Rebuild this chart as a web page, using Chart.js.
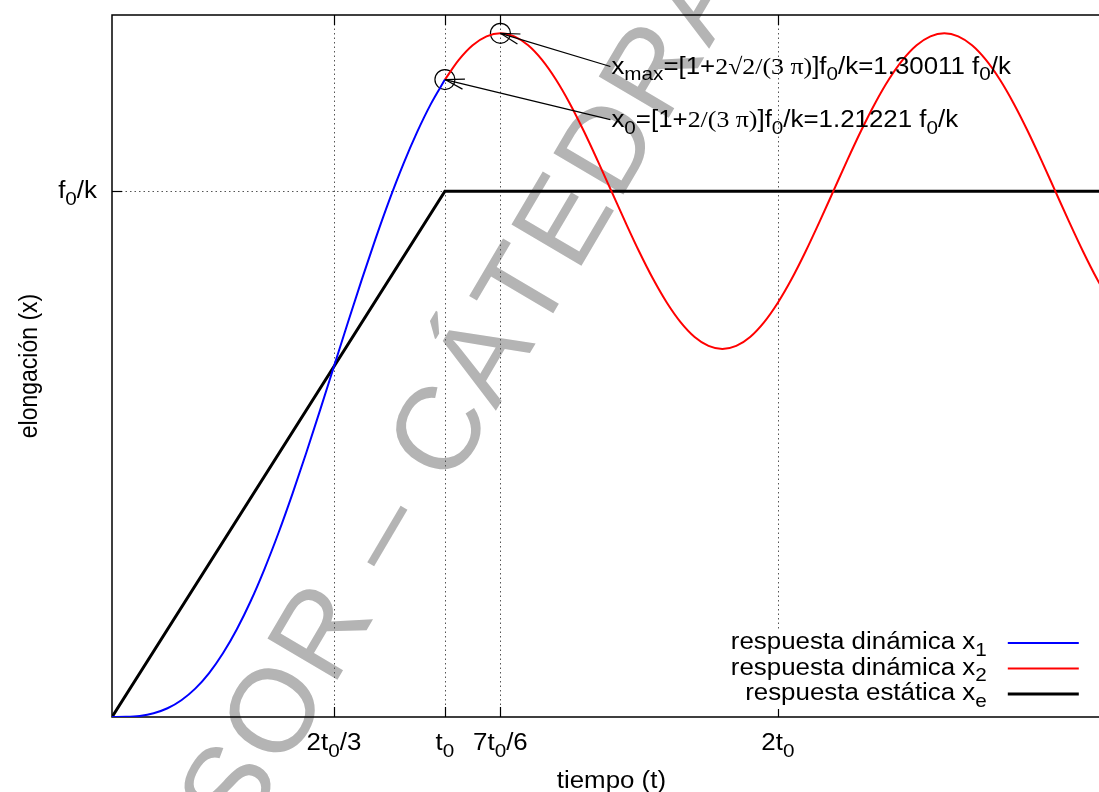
<!DOCTYPE html>
<html>
<head>
<meta charset="utf-8">
<script src="https://cdn.jsdelivr.net/npm/chart.js@4.4.1/dist/chart.umd.min.js"></script>
<style>
  html, body { margin: 0; padding: 0; background: #fff; overflow: hidden; }
  #wrap { width: 1111px; height: 792px; }
</style>
</head>
<body>
<div id="wrap"><canvas id="grafico" width="1111" height="792"></canvas></div>
<script>
// tiempo en unidades de t0, elongación en unidades de f0/k
const t1 = [0, 0.0417, 0.0833, 0.125, 0.1667, 0.2083, 0.25, 0.2917, 0.3333, 0.375, 0.4167, 0.4583, 0.5,
  0.5417, 0.5833, 0.625, 0.6667, 0.7083, 0.75, 0.7917, 0.8333, 0.875, 0.9167, 0.9583, 1];
const x1 = [0, 0.0003, 0.0021, 0.0071, 0.0166, 0.0319, 0.0539, 0.0835, 0.1211, 0.1669, 0.2206, 0.2819, 0.3499,
  0.4238, 0.5021, 0.5836, 0.6667, 0.7497, 0.8312, 0.9096, 0.9834, 1.0514, 1.1127, 1.1665, 1.2122];

const t2 = [1, 1.0417, 1.0833, 1.125, 1.1667, 1.2083, 1.25, 1.2917, 1.3333, 1.375, 1.4167, 1.4583, 1.5,
  1.5417, 1.5833, 1.625, 1.6667, 1.7083, 1.75, 1.7917, 1.8333, 1.875, 1.9167, 1.9583, 2,
  2.0417, 2.0833, 2.125, 2.1667, 2.2083, 2.25, 2.2917, 2.3333, 2.375, 2.4167, 2.4583, 2.5,
  2.5417, 2.5833, 2.625, 2.6667, 2.7083, 2.75, 2.7917, 2.8333, 2.875, 2.9167, 2.9583, 3];
const x2 = [1.2122, 1.2495, 1.2773, 1.2943, 1.3001, 1.2943, 1.2773, 1.2495, 1.2122, 1.1667, 1.1148, 1.0585, 1.0000,
  0.9415, 0.8852, 0.8333, 0.7878, 0.7505, 0.7227, 0.7057, 0.6999, 0.7057, 0.7227, 0.7505, 0.7878,
  0.8333, 0.8852, 0.9415, 1.0000, 1.0585, 1.1148, 1.1667, 1.2122, 1.2495, 1.2773, 1.2943, 1.3001,
  1.2943, 1.2773, 1.2495, 1.2122, 1.1667, 1.1148, 1.0585, 1.0000, 0.9415, 0.8852, 0.8333, 0.7878];

const te = [0, 1, 3];
const xe = [0, 1, 1];

const ticksX = [2 / 3, 1, 7 / 6, 2];
const ticksXLabels = ['2t_0/3', 't_0', '7t_0/6', '2t_0'];
const ticksY = [1];
const ticksYLabels = ['f_0/k'];

const legendLabels = ['respuesta dinámica x_1', 'respuesta dinámica x_2', 'respuesta estática x_e'];
const labelMax = 'x_{max}=[1+@{2√2/(3 π)}]f_0/k=1.30011 f_0/k';
const labelX0 = 'x_0=[1+@{2/(3 π)}]f_0/k=1.21221 f_0/k';

const colors = ['#0000ff', '#ff0000', '#000000'];

// puntos marcados con círculo
const iMax = x2.indexOf(Math.max(...x2));
const pMax = { x: t2[iMax], y: x2[iMax] };
const pX0 = { x: t1[t1.length - 1], y: x1[x1.length - 1] };

const FS = 23, SX = 1.125;

const parseRich = (s) => {
  const parts = [];
  const re = /_\{([^}]*)\}|_(.)|@\{([^}]*)\}|([^_@]+)/g;
  let m;
  while ((m = re.exec(s))) {
    if (m[1] !== undefined) parts.push({ t: m[1], sub: true });
    else if (m[2] !== undefined) parts.push({ t: m[2], sub: true });
    else if (m[3] !== undefined) parts.push({ t: m[3], serif: true });
    else parts.push({ t: m[4] });
  }
  return parts;
}

const fontOf = (p) => {
  const size = p.sub ? FS * 0.8 : FS;
  return size + 'px ' + (p.serif ? '"Liberation Serif", serif' : '"Liberation Sans", Arial, sans-serif');
}

const drawRich = (ctx, s, x, y, align) => {
  const parts = parseRich(s);
  let w = 0;
  parts.forEach(p => { ctx.font = fontOf(p); w += ctx.measureText(p.t).width * SX; });
  let cx = align === 'right' ? x - w : align === 'center' ? x - w / 2 : x;
  ctx.textAlign = 'left';
  ctx.textBaseline = 'alphabetic';
  parts.forEach(p => {
    ctx.font = fontOf(p);
    const dy = p.sub ? FS * 0.3 : 0;
    ctx.save();
    ctx.translate(cx, y + dy);
    ctx.scale(SX, 1);
    ctx.fillText(p.t, 0, 0);
    ctx.restore();
    cx += ctx.measureText(p.t).width * SX;
  });
}

const line = (ctx, xa, ya, xb, yb) => {
  ctx.beginPath();
  ctx.moveTo(xa, ya);
  ctx.lineTo(xb, yb);
  ctx.stroke();
}

const gnuplotLook = {
  id: 'gnuplotLook',
  beforeDraw(chart) {
    // marca de agua
    const ctx = chart.ctx;
    ctx.save();
    ctx.fillStyle = '#b4b4b4';
    ctx.font = '118px "Liberation Sans", Arial, sans-serif';
    ctx.letterSpacing = '4px';
    ctx.textAlign = 'left';
    ctx.textBaseline = 'alphabetic';
    const before = ctx.measureText('PROFESOR – ').width + ctx.measureText('C').width / 2;
    ctx.translate(437, 428);
    ctx.rotate(-59.5 * Math.PI / 180);
    ctx.fillText('PROFESOR – CÁTEDRA', -before, 42);
    ctx.restore();
  },
  beforeDatasetsDraw(chart) {
    const { ctx, chartArea: a, scales: { x, y } } = chart;
    ctx.save();
    // rejilla punteada
    ctx.strokeStyle = '#555';
    ctx.lineWidth = 1;
    ctx.setLineDash([1.5, 3]);
    ticksX.forEach(v => {
      const px = Math.round(x.getPixelForValue(v)) + 0.5;
      line(ctx, px, a.top, px, a.bottom);
    });
    ticksY.forEach(v => {
      const py = Math.round(y.getPixelForValue(v)) + 0.5;
      line(ctx, a.left, py, a.right, py);
    });
    ctx.setLineDash([]);
    // marco (el borde derecho queda fuera de la imagen)
    ctx.strokeStyle = '#000';
    ctx.lineWidth = 1.5;
    ctx.beginPath();
    ctx.moveTo(a.right + 12, a.top);
    ctx.lineTo(a.left, a.top);
    ctx.lineTo(a.left, a.bottom);
    ctx.lineTo(a.right + 12, a.bottom);
    ctx.stroke();
    ctx.lineWidth = 1.2;
    ticksX.forEach(v => {
      const px = Math.round(x.getPixelForValue(v)) + 0.5;
      line(ctx, px, a.bottom, px, a.bottom - 10);
      line(ctx, px, a.top, px, a.top + 10);
    });
    ticksY.forEach(v => {
      const py = Math.round(y.getPixelForValue(v)) + 0.5;
      line(ctx, a.left, py, a.left + 10, py);
    });
    // etiquetas
    ctx.fillStyle = '#000';
    ticksX.forEach((v, i) => drawRich(ctx, ticksXLabels[i], x.getPixelForValue(v), a.bottom + 33, 'center'));
    ticksY.forEach((v, i) => drawRich(ctx, ticksYLabels[i], a.left - 15, y.getPixelForValue(v) + 7, 'right'));
    drawRich(ctx, 'tiempo (t)', x.getPixelForValue(1.5), a.bottom + 71, 'center');
    ctx.save();
    ctx.translate(37, (a.top + a.bottom) / 2);
    ctx.rotate(-Math.PI / 2);
    ctx.scale(1, SX);
    ctx.font = FS + 'px "Liberation Sans", Arial, sans-serif';
    ctx.textAlign = 'center';
    ctx.fillText('elongación (x)', 0, 0);
    ctx.restore();
    ctx.restore();
  },
  afterDatasetsDraw(chart) {
    const { ctx, chartArea: a, scales: { x, y } } = chart;
    ctx.save();
    ctx.strokeStyle = '#000';
    ctx.fillStyle = '#000';
    ctx.lineWidth = 1.2;
    // flechas con etiqueta
    const notes = [
      { text: labelMax, at: [1.5, 1.237], to: pMax },
      { text: labelX0, at: [1.5, 1.136], to: pX0 }
    ];
    notes.forEach(n => {
      const xa = x.getPixelForValue(n.at[0]) - 1, ya = y.getPixelForValue(n.at[1]);
      const xb = x.getPixelForValue(n.to.x), yb = y.getPixelForValue(n.to.y);
      line(ctx, xa, ya, xb, yb);
      const ang = Math.atan2(ya - yb, xa - xb);
      [-1, 1].forEach(s => {
        const h = ang + s * 15 * Math.PI / 180;
        line(ctx, xb, yb, xb + 20 * Math.cos(h), yb + 20 * Math.sin(h));
      });
      drawRich(ctx, n.text, xa + 1, ya + 7, 'left');
    });
    // leyenda
    ctx.fillStyle = '#fff';
    ctx.fillRect(a.right - 370, a.bottom - 88, 362, 80);
    ctx.fillStyle = '#000';
    legendLabels.forEach((lab, i) => {
      const ly = a.bottom - 74 + i * 25.5;
      drawRich(ctx, lab, a.right - 113, ly + 6, 'right');
      ctx.strokeStyle = colors[i];
      ctx.lineWidth = i === 2 ? 3 : 2;
      line(ctx, a.right - 92, ly, a.right - 21, ly);
    });
    ctx.restore();
  }
};

new Chart(document.getElementById('grafico'), {
  type: 'scatter',
  data: {
    datasets: [
      {
        label: 'respuesta dinámica x₁',
        data: t1.map((t, i) => ({ x: t, y: x1[i] })),
        showLine: true,
        borderColor: colors[0],
        borderWidth: 2,
        pointRadius: 0,
        cubicInterpolationMode: 'monotone'
      },
      {
        label: 'respuesta dinámica x₂',
        data: t2.map((t, i) => ({ x: t, y: x2[i] })),
        showLine: true,
        borderColor: colors[1],
        borderWidth: 2,
        pointRadius: 0,
        cubicInterpolationMode: 'monotone'
      },
      {
        label: 'respuesta estática xₑ',
        data: te.map((t, i) => ({ x: t, y: xe[i] })),
        showLine: true,
        borderColor: colors[2],
        borderWidth: 3,
        pointRadius: 0
      },
      {
        label: 'puntos',
        data: [pX0, pMax],
        showLine: false,
        pointStyle: 'circle',
        pointRadius: 10,
        borderColor: '#000',
        borderWidth: 1.2,
        backgroundColor: 'rgba(0,0,0,0)',
        clip: false
      }
    ]
  },
  options: {
    responsive: false,
    animation: false,
    devicePixelRatio: 1,
    layout: { padding: { top: 15, right: 0, left: 0, bottom: 0 } },
    plugins: {
      legend: { display: false },
      tooltip: { enabled: false }
    },
    scales: {
      x: {
        type: 'linear', min: 0, max: 2.967,
        ticks: { display: false }, grid: { display: false }, border: { display: false },
        afterFit: (s) => { s.height = 75; }
      },
      y: {
        type: 'linear', min: 0, max: 1.335,
        ticks: { display: false }, grid: { display: false }, border: { display: false },
        afterFit: (s) => { s.width = 112; }
      }
    }
  },
  plugins: [gnuplotLook]
});
</script>
</body>
</html>
